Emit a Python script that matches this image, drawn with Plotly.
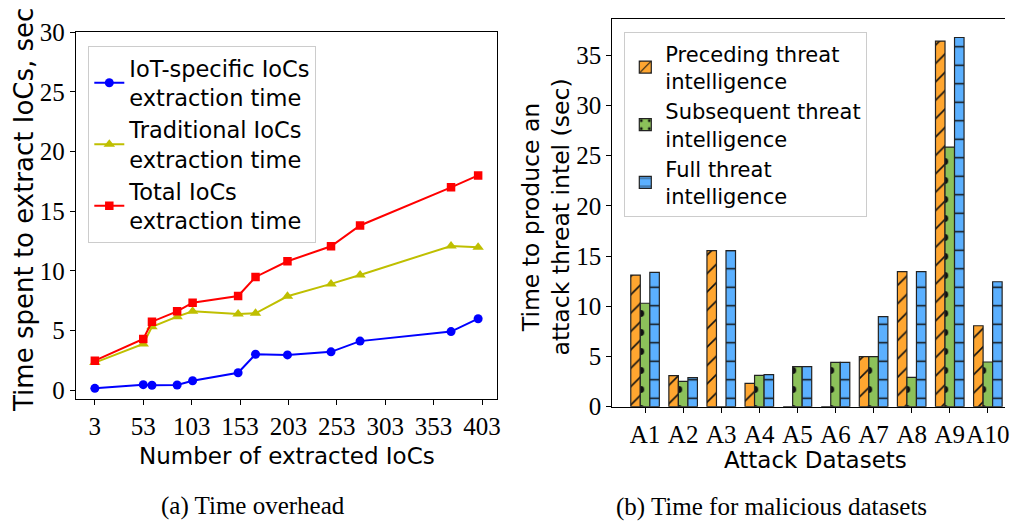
import plotly.graph_objects as go

# ---------------- data ----------------
ioc_counts = [3, 53, 62, 88, 104, 151, 169, 202, 247, 277, 371, 399]
iot_time = [0.14, 0.45, 0.40, 0.42, 0.78, 1.45, 3.0, 2.94, 3.2, 4.1, 4.9, 5.98]
trad_time = [2.3, 3.86, 5.3, 6.15, 6.6, 6.37, 6.43, 7.86, 8.9, 9.65, 12.08, 11.97]
total_time = [2.46, 4.28, 5.73, 6.6, 7.32, 7.88, 9.48, 10.8, 12.05, 13.8, 17.0, 18.0]
left_xticks = [3, 53, 103, 153, 203, 253, 303, 353, 403]
left_yticks = [0, 5, 10, 15, 20, 25, 30]

datasets = ["A1", "A2", "A3", "A4", "A5", "A6", "A7", "A8", "A9", "A10"]
preceding = [13.1, 3.09, 15.53, 2.32, 0, 0, 4.98, 13.44, 36.4, 8.06]
subsequent = [10.3, 2.52, 0, 3.12, 3.98, 4.41, 4.98, 2.92, 25.85, 4.45]
full = [13.37, 2.89, 15.53, 3.19, 3.98, 4.41, 8.96, 13.44, 36.76, 12.44]
right_yticks = [0, 5, 10, 15, 20, 25, 30, 35]

W, H = 1012, 521
SANS = "DejaVu Sans"
SERIF = "Liberation Serif"


def px_x(p):
    return p / W


def px_y(p):
    return 1 - p / H


fig = go.Figure()

# ---------------- left: line chart ----------------
fig.add_trace(go.Scatter(
    x=ioc_counts, y=iot_time, mode="lines+markers",
    name="IoT-specific IoCs<br>extraction time",
    line=dict(color="#0000FF", width=2),
    marker=dict(symbol="circle", size=9, color="#0000FF"),
    xaxis="x", yaxis="y", legend="legend"))
fig.add_trace(go.Scatter(
    x=ioc_counts, y=trad_time, mode="lines+markers",
    name="Traditional IoCs<br>extraction time",
    line=dict(color="#BFBF00", width=2),
    marker=dict(symbol="triangle-up", size=10, color="#BFBF00"),
    xaxis="x", yaxis="y", legend="legend"))
fig.add_trace(go.Scatter(
    x=ioc_counts, y=total_time, mode="lines+markers",
    name="Total IoCs<br>extraction time",
    line=dict(color="#FF0000", width=2),
    marker=dict(symbol="square", size=8.5, color="#FF0000"),
    xaxis="x", yaxis="y", legend="legend"))

# ---------------- right: grouped bars ----------------
bar_specs = [
    ("Preceding threat<br>intelligence", preceding, "#FFA630", "/", 13, 0.12),
    ("Subsequent threat<br>intelligence", subsequent, "#8CC15A", ".", 19, 0.1),
    ("Full threat<br>intelligence", full, "#5BB0FF", "-", 18.5, 0.08),
]
for name, vals, col, shape, size, sol in bar_specs:
    fig.add_trace(go.Bar(
        x=datasets, y=vals, name=name,
        marker=dict(color=col,
                    line=dict(color="#222222", width=1.2),
                    pattern=dict(shape=shape, size=size, solidity=sol,
                                 fgcolor="#111111", bgcolor=col,
                                 fillmode="replace")),
        xaxis="x2", yaxis="y2", legend="legend2"))

tickfont = dict(family=SERIF, size=25, color="black")
axis_common = dict(showgrid=False, zeroline=False, showline=True,
                   linecolor="black", linewidth=1, ticks="outside",
                   ticklen=5, tickwidth=1, tickcolor="black",
                   tickfont=tickfont, tickangle=0)

fig.update_layout(
    width=W, height=H,
    margin=dict(l=0, r=0, t=0, b=0),
    paper_bgcolor="white", plot_bgcolor="white",
    template="none",
    barmode="group", bargap=0.25, bargroupgap=0,
    xaxis=dict(domain=[px_x(75.7), px_x(497.3)], range=[-16.8, 418.8],
               tickvals=left_xticks, mirror=True, anchor="y", **axis_common),
    yaxis=dict(domain=[px_y(399), px_y(32.3)], range=[-0.755, 30],
               tickvals=left_yticks, mirror=True, anchor="x", **axis_common),
    xaxis2=dict(domain=[px_x(612.3), px_x(1005)], range=[-0.86, 9.45],
                type="category", mirror=True, anchor="y2", **axis_common),
    yaxis2=dict(domain=[px_y(406.7), px_y(19)], range=[0, 38.6],
                tickvals=right_yticks, anchor="x2", **axis_common),
    legend=dict(x=px_x(88.3), y=px_y(46), xanchor="left", yanchor="top",
                bgcolor="rgba(255,255,255,0.85)", bordercolor="#cccccc",
                borderwidth=1, font=dict(family=SANS, size=22.5, color="black"),
                tracegroupgap=0),
    legend2=dict(x=px_x(624.3), y=px_y(32.3), xanchor="left", yanchor="top",
                 bgcolor="rgba(255,255,255,0.85)", bordercolor="#cccccc",
                 borderwidth=1, font=dict(family=SANS, size=21, color="black"),
                 tracegroupgap=0),
    showlegend=True,
)

annos = [
    dict(text="Time spent to extract IoCs, sec", x=px_x(24), y=px_y(210),
         textangle=-90, font=dict(family=SANS, size=26, color="black")),
    dict(text="Time to produce an<br>attack threat intel (sec)", x=px_x(545.5),
         y=px_y(217), textangle=-90,
         font=dict(family=SANS, size=23.5, color="black")),
    dict(text="Number of extracted IoCs", x=px_x(286.7), y=px_y(456),
         font=dict(family=SANS, size=23, color="black")),
    dict(text="Attack Datasets", x=px_x(815.8), y=px_y(460),
         font=dict(family=SANS, size=23, color="black")),
    dict(text="(a) Time overhead", x=px_x(253), y=px_y(506),
         font=dict(family=SERIF, size=25, color="black")),
    dict(text="(b) Time for malicious datasets", x=px_x(771.7), y=px_y(507),
         font=dict(family=SERIF, size=25, color="black")),
]
for a in annos:
    fig.add_annotation(xref="paper", yref="paper", showarrow=False,
                       xanchor="center", yanchor="middle", **a)

fig.write_html(
    "out.html",
    config={"displayModeBar": False},
    post_script="document.body.style.margin='0';"
                "document.body.style.overflow='hidden';")
